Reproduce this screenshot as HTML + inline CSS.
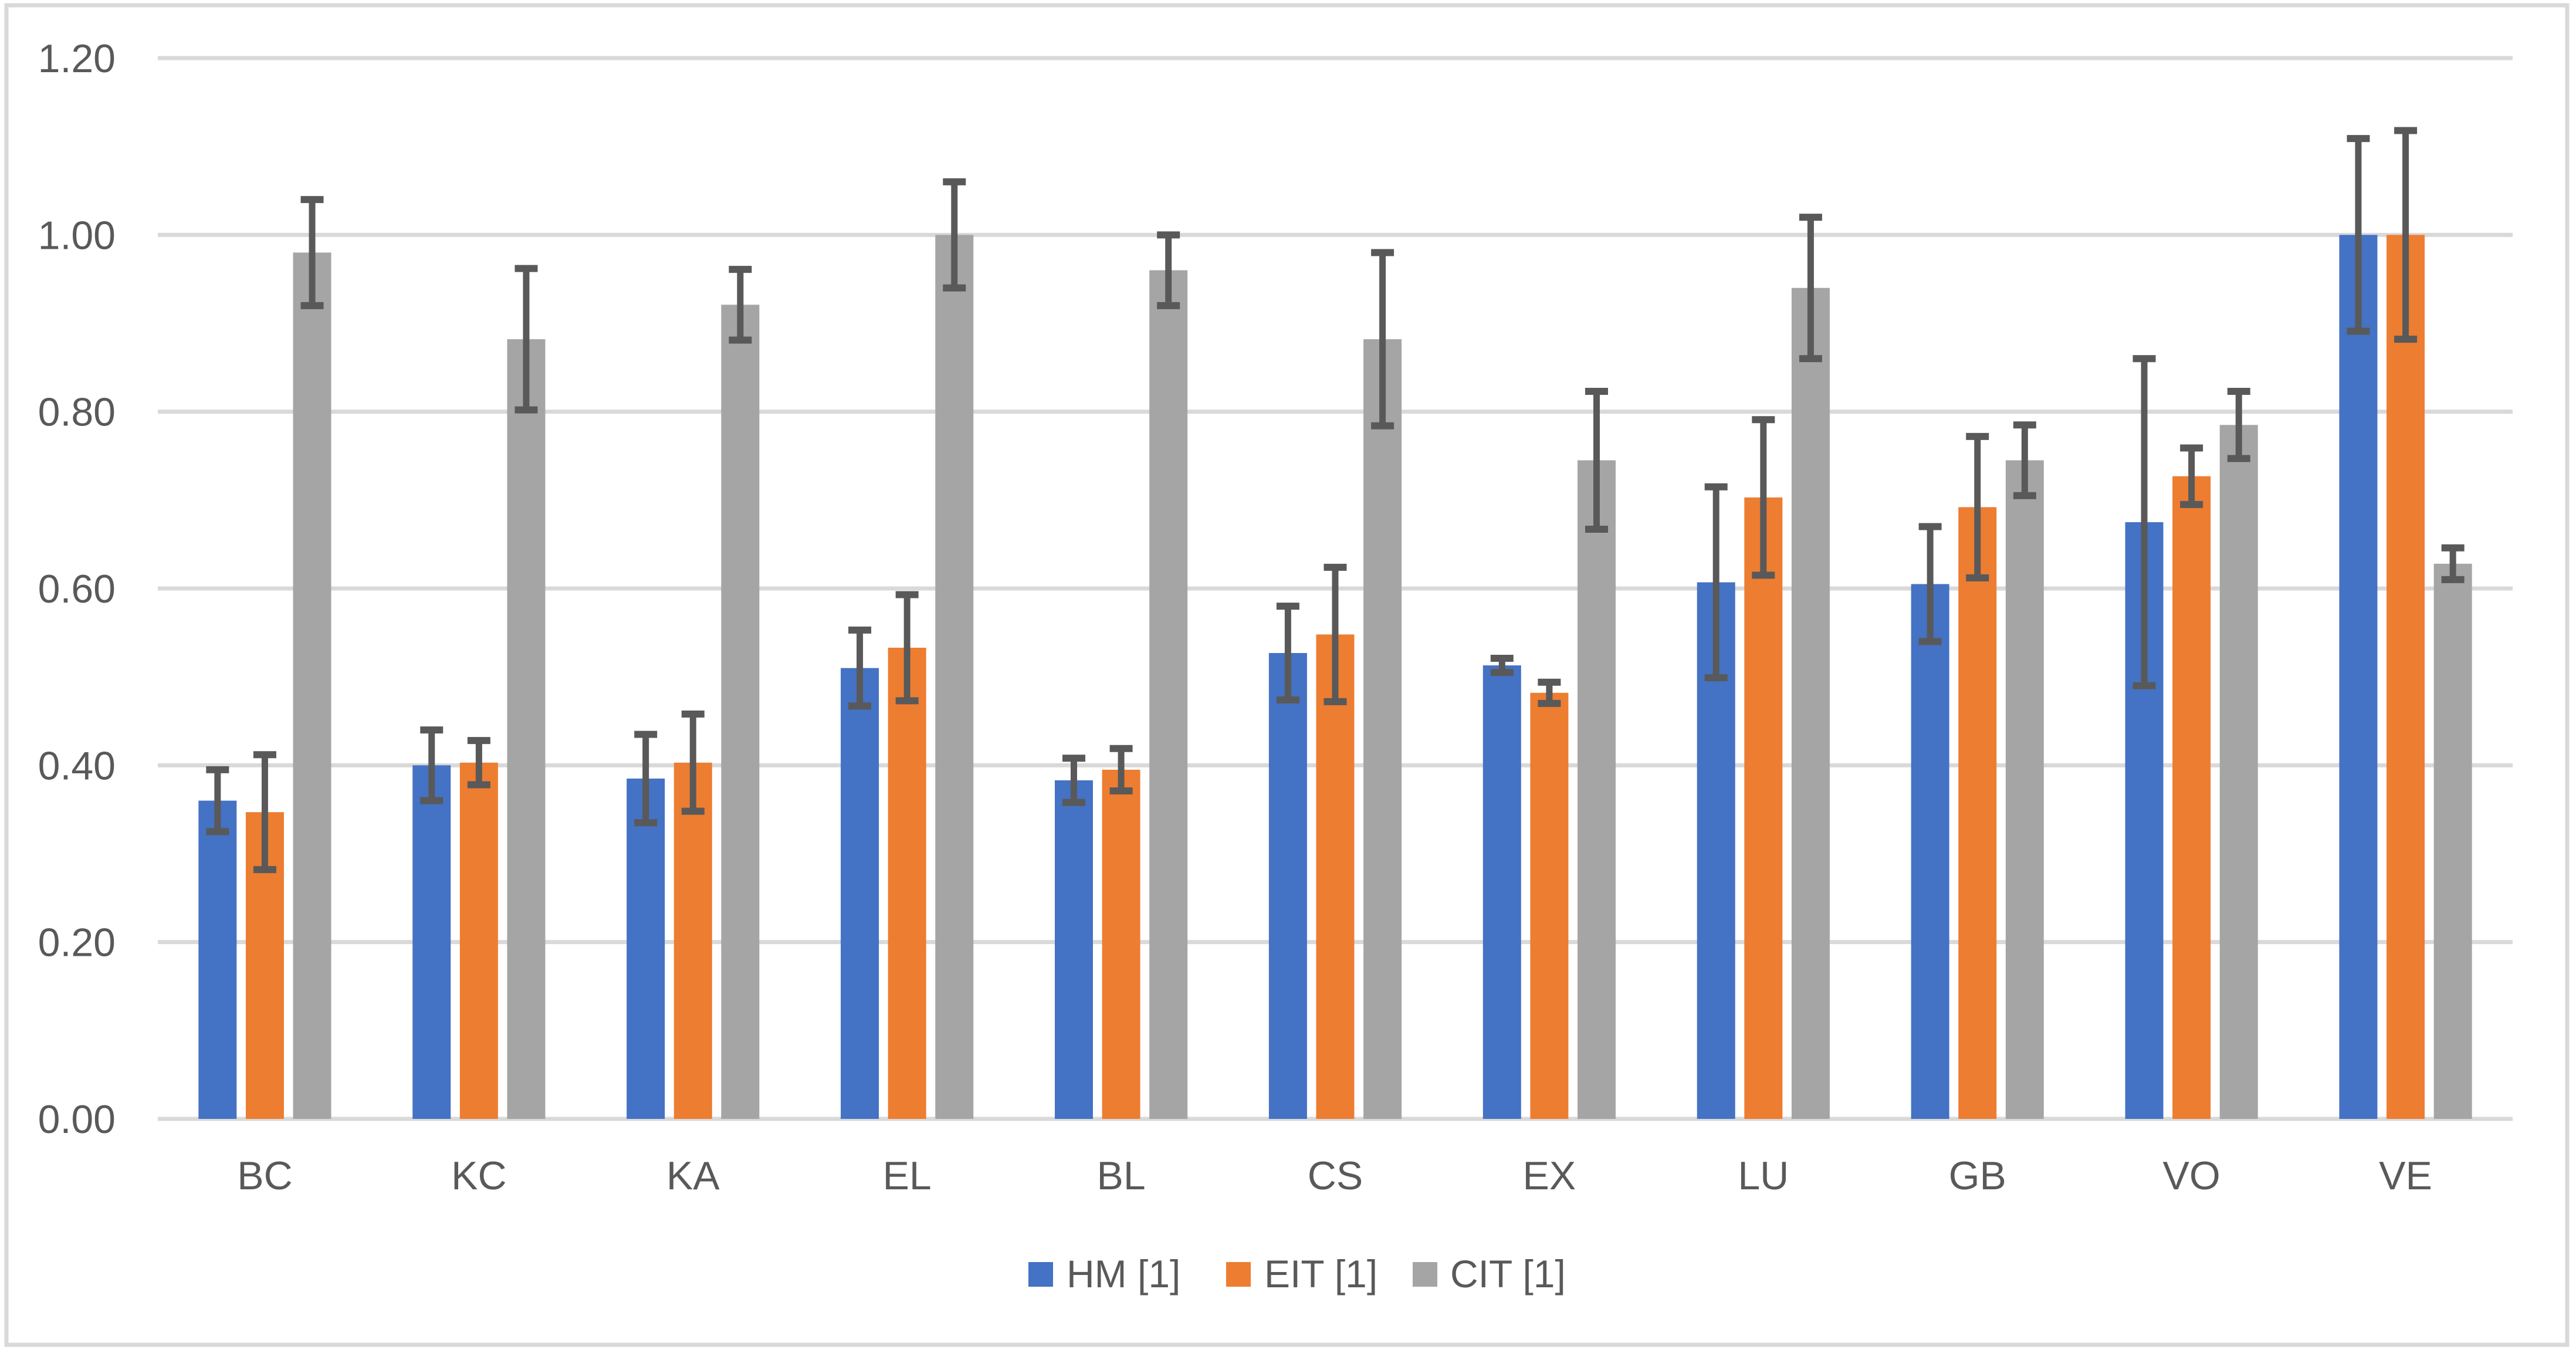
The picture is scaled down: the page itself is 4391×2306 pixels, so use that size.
<!DOCTYPE html>
<html><head><meta charset="utf-8"><style>
html,body{margin:0;padding:0;background:#fff;}
svg{display:block;}
text{font-family:"Liberation Sans",sans-serif;fill:#595959;}
</style></head><body>
<svg id="chart" width="4391" height="2306" viewBox="0 0 4391 2306">
<rect x="11" y="9" width="4365" height="2283" fill="#fff" stroke="#d9d9d9" stroke-width="7"/>
<g id="grid"></g>
<g id="ylabels"></g>
<g id="bars"></g>
<g id="errs"></g>
<g id="xlabels"></g>
<g>
 <g><rect x="1753" y="2151" width="42" height="42" fill="#4472c4"/><text x="1818" y="2194" font-size="66">HM [1]</text></g>
 <g><rect x="2090" y="2151" width="42" height="42" fill="#ed7d31"/><text x="2155" y="2194" font-size="66">EIT [1]</text></g>
 <g><rect x="2408" y="2151" width="42" height="42" fill="#a5a5a5"/><text x="2472" y="2194" font-size="66">CIT [1]</text></g>
</g>
</svg>
<script>
const categories = ["BC","KC","KA","EL","BL","CS","EX","LU","GB","VO","VE"];
const hmValues  = [0.36,0.40,0.385,0.51,0.383,0.527,0.513,0.607,0.605,0.675,1.00];
const hmErr     = [0.035,0.04,0.05,0.043,0.025,0.053,0.008,0.108,0.065,0.185,0.109];
const eitValues = [0.347,0.403,0.403,0.533,0.395,0.548,0.482,0.703,0.692,0.727,1.00];
const eitErr    = [0.065,0.025,0.055,0.06,0.024,0.076,0.012,0.088,0.08,0.032,0.118];
const citValues = [0.98,0.882,0.921,1.00,0.96,0.882,0.745,0.94,0.745,0.785,0.628];
const citErr    = [0.06,0.08,0.04,0.06,0.04,0.098,0.078,0.08,0.04,0.038,0.018];
const yTicks = [0,0.2,0.4,0.6,0.8,1.0,1.2];
const yTickLabels = ["0.00","0.20","0.40","0.60","0.80","1.00","1.20"];

const NS="http://www.w3.org/2000/svg";
const L=269,R=4283,T=99,B=1907,YMAX=1.2;
const cw=(R-L)/categories.length, bw=65, pitch=80.6;
const y=v=>B-(v/YMAX)*(B-T);
const xc=i=>L+cw*(i+0.5);
function mk(tag,attrs,parent){const e=document.createElementNS(NS,tag);for(const k in attrs)e.setAttribute(k,attrs[k]);document.getElementById(parent).appendChild(e);return e;}
yTicks.forEach((t,i)=>{
  const ln=mk("line",{x1:L,x2:R,y1:y(t),y2:y(t),stroke:"#d9d9d9","stroke-width":7},"grid");
  
  
  const tx=mk("text",{x:197,y:y(t)+24,"text-anchor":"end","font-size":68},"ylabels");
  tx.textContent=yTickLabels[i];
  
  
});
const series=[[hmValues,hmErr,"#4472c4","hm"],[eitValues,eitErr,"#ed7d31","eit"],[citValues,citErr,"#a5a5a5","cit"]];
categories.forEach((c,i)=>{
  series.forEach((s,j)=>{
    const cx=xc(i)+(j-1)*pitch, v=s[0][i], e=s[1][i];
    const r=mk("rect",{x:cx-bw/2,y:y(v),width:bw,height:B-y(v),fill:s[2]},"bars");
    
    
    const g=mk("g",{stroke:"#595959"},"errs");
    
    
    const t=y(v+e), b=y(v-e);
    const a=document.createElementNS(NS,"line");a.setAttribute("x1",cx);a.setAttribute("x2",cx);a.setAttribute("y1",t);a.setAttribute("y2",b);a.setAttribute("stroke-width",11);g.appendChild(a);
    [t,b].forEach(yy=>{const cp=document.createElementNS(NS,"line");cp.setAttribute("x1",cx-19.5);cp.setAttribute("x2",cx+19.5);cp.setAttribute("y1",yy);cp.setAttribute("y2",yy);cp.setAttribute("stroke-width",12);g.appendChild(cp);});
  });
  const tx=mk("text",{x:xc(i),y:2027,"text-anchor":"middle","font-size":68},"xlabels");
  tx.textContent=c;
  
  
});
</script>
</body></html>
